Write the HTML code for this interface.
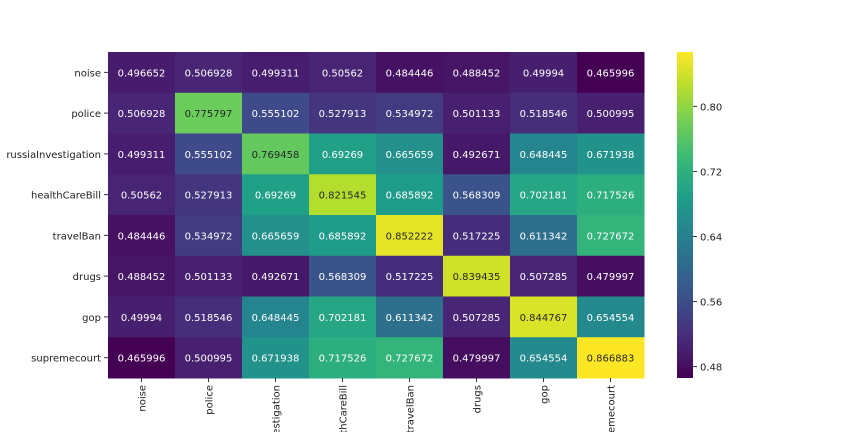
<!DOCTYPE html>
<html><head><meta charset="utf-8"><style>
html,body{margin:0;background:#fff;width:864px;height:432px;overflow:hidden;}
svg{display:block;overflow:hidden;}
svg text{font-family:"DejaVu Sans","Liberation Sans",sans-serif;}
</style></head><body>
<svg id="c" width="864" height="432" xmlns="http://www.w3.org/2000/svg">
<defs><linearGradient id="cbg" x1="0" y1="1" x2="0" y2="0"></linearGradient></defs>
<g id="cells"></g>
<g id="yl"></g>
<g id="xl"></g>
<g id="cb"></g>
</svg>
<script>
const labels=["noise","police","russiaInvestigation","healthCareBill","travelBan","drugs","gop","supremecourt"];
const row0=[0.496652,0.506928,0.499311,0.50562,0.484446,0.488452,0.49994,0.465996];
const row1=[0.506928,0.775797,0.555102,0.527913,0.534972,0.501133,0.518546,0.500995];
const row2=[0.499311,0.555102,0.769458,0.69269,0.665659,0.492671,0.648445,0.671938];
const row3=[0.50562,0.527913,0.69269,0.821545,0.685892,0.568309,0.702181,0.717526];
const row4=[0.484446,0.534972,0.665659,0.685892,0.852222,0.517225,0.611342,0.727672];
const row5=[0.488452,0.501133,0.492671,0.568309,0.517225,0.839435,0.507285,0.479997];
const row6=[0.49994,0.518546,0.648445,0.702181,0.611342,0.507285,0.844767,0.654554];
const row7=[0.465996,0.500995,0.671938,0.717526,0.727672,0.479997,0.654554,0.866883];
const cbTicks=[0.48,0.56,0.64,0.72,0.80];
const rows=[row0,row1,row2,row3,row4,row5,row6,row7];
const vmin=0.465996,vmax=0.866883;
const X0=108,X1=644,Y0=52,Y1=378;
const cw=(X1-X0)/labels.length,ch=(Y1-Y0)/labels.length;
const vir=[[68,1,84],[72,40,120],[62,74,137],[49,104,142],[38,130,142],[31,158,137],[53,183,121],[109,205,89],[180,222,44],[253,231,37]];
function cmap(v){let t=Math.max(0,Math.min(1,(v-vmin)/(vmax-vmin)))*(vir.length-1);let i=Math.min(Math.floor(t),vir.length-2),f=t-i;
const c=vir[i].map((a,k)=>Math.round(a+(vir[i+1][k]-a)*f));return c;}
const NS="http://www.w3.org/2000/svg";
function mk(tag,attrs,parent){const e=document.createElementNS(NS,tag);for(const k in attrs)e.setAttribute(k,attrs[k]);parent.appendChild(e);return e;}
const FS='10';
const cells=document.getElementById('cells');
rows.forEach((r,i)=>r.forEach((v,j)=>{
 const c=cmap(v);
 const rc=mk('rect',{x:X0+j*cw,y:Y0+i*ch,width:cw+0.5,height:ch+0.5,fill:`rgb(${c})`},cells);
 
 
 const lum=0.2126*c[0]+0.7152*c[1]+0.0722*c[2];
 const t=mk('text',{x:X0+j*cw+cw/2,y:Y0+i*ch+ch/2+4,'text-anchor':'middle','font-size':FS,fill:lum>150?'#262626':'#fff'},cells);
 t.textContent=String(v);
 
 
}));
const yl=document.getElementById('yl'),xl=document.getElementById('xl');
labels.forEach((l,i)=>{
 const y=Y0+i*ch+ch/2;
 mk('line',{x1:X0-4,x2:X0,y1:y,y2:y,stroke:'#333'},yl);
 const t=mk('text',{x:X0-7,y:y+4,'text-anchor':'end','font-size':FS,fill:'#222'},yl);
 t.textContent=l;
 
 
 const x=X0+i*cw+cw/2;
 mk('line',{x1:x,x2:x,y1:Y1,y2:Y1+4,stroke:'#333'},xl);
 const u=mk('text',{x:0,y:0,'text-anchor':'end','font-size':FS,fill:'#222',transform:`translate(${x+4},${Y1+7}) rotate(-90)`},xl);
 u.textContent=l;
 
 
});
const g=document.getElementById('cbg');
for(let k=0;k<=20;k++){const v=vmin+(vmax-vmin)*k/20;mk('stop',{offset:k/20,'stop-color':`rgb(${cmap(v)})`},g);}
const cb=document.getElementById('cb');
const CX=677,CW=16;
const r=mk('rect',{x:CX,y:Y0,width:CW,height:Y1-Y0,fill:'url(#cbg)'},cb);


function cy(v){return Y1-(v-vmin)/(vmax-vmin)*(Y1-Y0);}
cbTicks.forEach(v=>{
 const y=cy(v);
 mk('line',{x1:CX+CW,x2:CX+CW+4,y1:y,y2:y,stroke:'#333'},cb);
 const t=mk('text',{x:CX+CW+7,y:y+4,'font-size':FS,fill:'#222'},cb);
 t.textContent=v.toFixed(2);
 
 
});
</script>
</body></html>
